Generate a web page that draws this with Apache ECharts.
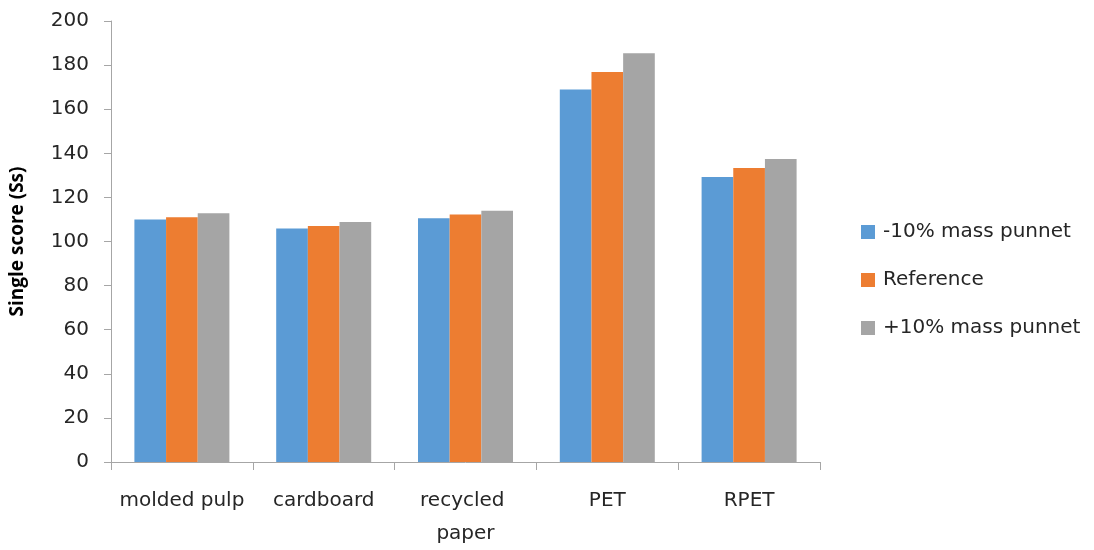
<!DOCTYPE html>
<html>
<head>
<meta charset="utf-8">
<script src="https://cdn.jsdelivr.net/npm/echarts@6/dist/echarts.min.js"></script>
<style>
  html, body { margin: 0; padding: 0; background: #fff; }
  #chart { width: 1094px; height: 550px; }
</style>
</head>
<body>
<div id="chart"></div>
<script>
// Packaging types compared
const categories = ['molded pulp', 'cardboard', 'recycled paper', 'PET', 'RPET'];

// Single score per packaging type for each punnet mass scenario
const minus10 = [110.0, 105.9, 110.6, 168.9, 129.3];
const reference = [111.0, 107.0, 112.2, 176.9, 133.3];
const plus10 = [112.8, 108.8, 114.0, 185.4, 137.4];

const seriesNames = ['-10% mass punnet', 'Reference', '+10% mass punnet'];
const seriesColors = ['#5B9BD5', '#ED7D31', '#A5A5A5'];

const yTicks = { min: 0, max: 200, interval: 20 };

const font = "'DejaVu Sans', 'Open Sans', sans-serif";
const nameFont = "'Open Sans', 'DejaVu Sans', sans-serif";
const textColor = '#262626';
const axisColor = '#A6A6A6';

const chart = echarts.init(document.getElementById('chart'), null, { renderer: 'canvas' });

const values = [minus10, reference, plus10];

chart.setOption({
  animation: false,
  backgroundColor: '#ffffff',
  grid: { left: 110, top: 21, width: 710, height: 448, containLabel: false },
  legend: {
    orient: 'vertical',
    left: 861,
    top: 218,
    padding: 0,
    itemWidth: 14,
    itemHeight: 14,
    itemGap: 20,
    icon: 'rect',
    textStyle: { fontFamily: font, fontSize: 20, color: textColor, lineHeight: 28, padding: [0, 0, 0, 3] },
    data: seriesNames
  },
  xAxis: {
    type: 'category',
    data: categories,
    axisLine: { lineStyle: { color: axisColor, width: 1 } },
    axisTick: { show: true, length: 8, interval: 0, lineStyle: { color: axisColor } },
    axisLabel: {
      interval: 0,
      margin: 22,
      fontFamily: font,
      fontSize: 20,
      color: textColor,
      lineHeight: 33,
      width: 140,
      overflow: 'break'
    }
  },
  yAxis: {
    type: 'value',
    min: yTicks.min,
    max: yTicks.max,
    interval: yTicks.interval,
    name: 'Single score (Ss)',
    nameLocation: 'middle',
    nameGap: 84,
    nameRotate: 90,
    nameTextStyle: { fontFamily: nameFont, fontSize: 19, fontWeight: 'bold', color: '#000000' },
    axisLine: { show: true, lineStyle: { color: axisColor, width: 1 } },
    axisTick: { show: true, length: 7, lineStyle: { color: axisColor } },
    splitLine: { show: false },
    axisLabel: { margin: 22, fontFamily: font, fontSize: 20, color: textColor }
  },
  series: seriesNames.map((name, i) => ({
    name,
    type: 'bar',
    data: values[i],
    barGap: '0%',
    barCategoryGap: '33%',
    itemStyle: { color: seriesColors[i] }
  }))
});
</script>
</body>
</html>
